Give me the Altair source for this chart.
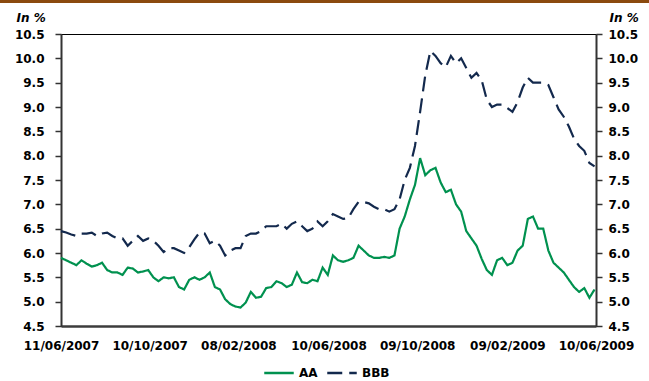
import altair as alt
import pandas as pd

# Weekly yields (in %), starting 11/06/2007
aa = [
    5.90, 5.85, 5.80, 5.75, 5.85, 5.78, 5.72, 5.75, 5.80, 5.65,
    5.60, 5.60, 5.55, 5.70, 5.68, 5.60, 5.62, 5.65, 5.50, 5.42,
    5.50, 5.48, 5.50, 5.30, 5.25, 5.45, 5.50, 5.45, 5.50, 5.60,
    5.30, 5.25, 5.05, 4.95, 4.90, 4.88, 4.98, 5.20, 5.08, 5.10,
    5.28, 5.30, 5.42, 5.38, 5.30, 5.35, 5.60, 5.40, 5.38, 5.45,
    5.42, 5.70, 5.55, 5.95, 5.85, 5.82, 5.85, 5.90, 6.15, 6.05,
    5.95, 5.90, 5.90, 5.92, 5.90, 5.95, 6.50, 6.75, 7.10, 7.40,
    7.95, 7.60, 7.70, 7.75, 7.45, 7.25, 7.30, 7.00, 6.85, 6.45,
    6.30, 6.15, 5.88, 5.65, 5.55, 5.85, 5.90, 5.75, 5.80, 6.05,
    6.15, 6.70, 6.75, 6.50, 6.50, 6.05, 5.80, 5.70, 5.60, 5.45,
    5.30, 5.20, 5.28, 5.08, 5.25,
]
bbb = [
    6.45, 6.42, 6.38, 6.35, 6.40, 6.40, 6.42, 6.35, 6.40, 6.42,
    6.35, 6.30, 6.30, 6.15, 6.25, 6.35, 6.25, 6.30, 6.25, 6.15,
    6.02, 6.10, 6.10, 6.05, 6.00, 6.12, 6.28, 6.42, 6.40, 6.20,
    6.25, 6.15, 5.95, 6.05, 6.10, 6.10, 6.35, 6.40, 6.40, 6.45,
    6.55, 6.55, 6.55, 6.60, 6.50, 6.60, 6.65, 6.55, 6.45, 6.50,
    6.65, 6.55, 6.65, 6.80, 6.75, 6.70, 6.72, 6.90, 7.05, 7.05,
    7.02, 6.95, 6.90, 6.90, 6.85, 6.90, 7.10, 7.50, 7.75, 8.20,
    8.90, 9.65, 10.15, 10.05, 9.90, 9.82, 10.05, 9.90, 10.00, 9.80,
    9.60, 9.70, 9.55, 9.15, 9.00, 9.05, 9.05, 8.98, 8.90, 9.10,
    9.40, 9.60, 9.50, 9.50, 9.50, 9.45, 9.20, 8.95, 8.80, 8.60,
    8.35, 8.20, 8.10, 7.85, 7.78,
]
series_names = ["AA", "BBB"]
series_colors = ["#00914f", "#13294d"]
tick_dates = [(2007, 6, 11), (2007, 10, 10), (2008, 2, 8), (2008, 6, 10),
              (2008, 10, 9), (2009, 2, 9), (2009, 6, 10)]
y_ticks = [4.5, 5.0, 5.5, 6.0, 6.5, 7.0, 7.5, 8.0, 8.5, 9.0, 9.5, 10.0, 10.5]

dates = pd.date_range("2007-06-11", periods=len(aa), freq="7D")
df = pd.DataFrame({"date": dates, "AA": aa, "BBB": bbb}).melt(
    "date", var_name="series", value_name="yield")

FONT = "DejaVu Sans"


def dt(y, m, d):
    return alt.DateTime(year=y, month=m, date=d)


x_scale = alt.Scale(domain=[dt(2007, 6, 11), dt(2009, 6, 10)])
y_scale = alt.Scale(domain=[4.5, 10.5], nice=False, zero=False)

x_axis = alt.Axis(values=[dt(*t) for t in tick_dates], format="%d/%m/%Y",
                  title=None, ticks=False, domainColor="#3c3c3c",
                  domainWidth=2.5, labelPadding=14, labelFlush=False)

legend = alt.Legend(
    title=None, orient="none", legendX=202, legendY=323,
    direction="horizontal", symbolType="stroke", symbolSize=870,
    symbolStrokeWidth=2.5, labelFont=FONT, labelFontSize=12,
    labelFontWeight="bold", labelColor="black", labelOffset=4,
    columnPadding=4,
)

lines = alt.Chart(df).mark_line(strokeWidth=2.2).encode(
    x=alt.X("date:T", scale=x_scale, axis=x_axis),
    y=alt.Y("yield:Q", scale=y_scale,
            axis=alt.Axis(orient="left", values=y_ticks, format=".1f",
                          title="In %", titleAngle=0, titleX=-45, titleY=-13,
                          titleAlign="left", titleBaseline="alphabetic",
                          titleFontStyle="italic", labelPadding=11,
                          domainColor="#333333", domainWidth=2,
                          tickColor="#333333", tickSize=6, tickWidth=1.5)),
    color=alt.Color("series:N",
                    scale=alt.Scale(domain=series_names, range=series_colors),
                    legend=legend),
    strokeDash=alt.StrokeDash("series:N",
                              scale=alt.Scale(domain=series_names,
                                              range=[[1, 0], [15, 7]]),
                              legend=legend),
)

right_axis = alt.Chart(df).mark_line(strokeOpacity=0).encode(
    x=alt.X("date:T", scale=x_scale, axis=x_axis),
    y=alt.Y("yield:Q", scale=y_scale,
            axis=alt.Axis(orient="right", values=y_ticks, format=".1f",
                          title="In %", titleAngle=0, titleX=13, titleY=-13,
                          titleAlign="left", titleBaseline="alphabetic",
                          titleFontStyle="italic", labelPadding=6,
                          domainColor="#333333", domainWidth=2,
                          tickColor="#333333", tickSize=6, tickWidth=1.5)),
    detail="series:N",
)

# brown banner rule across the very top of the page
banner = alt.Chart(pd.DataFrame({"k": [0]})).mark_rule(
    color="#8b4a0e", strokeWidth=3).encode(
    x=alt.value(-61), x2=alt.value(588), y=alt.value(-32.5))

chart = alt.layer(lines, right_axis, banner).resolve_scale(
    y="independent"
).properties(
    width=535, height=292, autosize="none",
    padding={"left": 61, "top": 34, "right": 53, "bottom": 55},
).configure_view(
    stroke="black", strokeWidth=1
).configure_axis(
    grid=False, labelFont=FONT, labelFontSize=12, labelFontWeight="bold",
    labelColor="black", titleFont=FONT, titleFontSize=12,
    titleFontWeight="bold", titleColor="black",
)

chart.save("out.html", embed_options={"renderer": "svg", "actions": False})
